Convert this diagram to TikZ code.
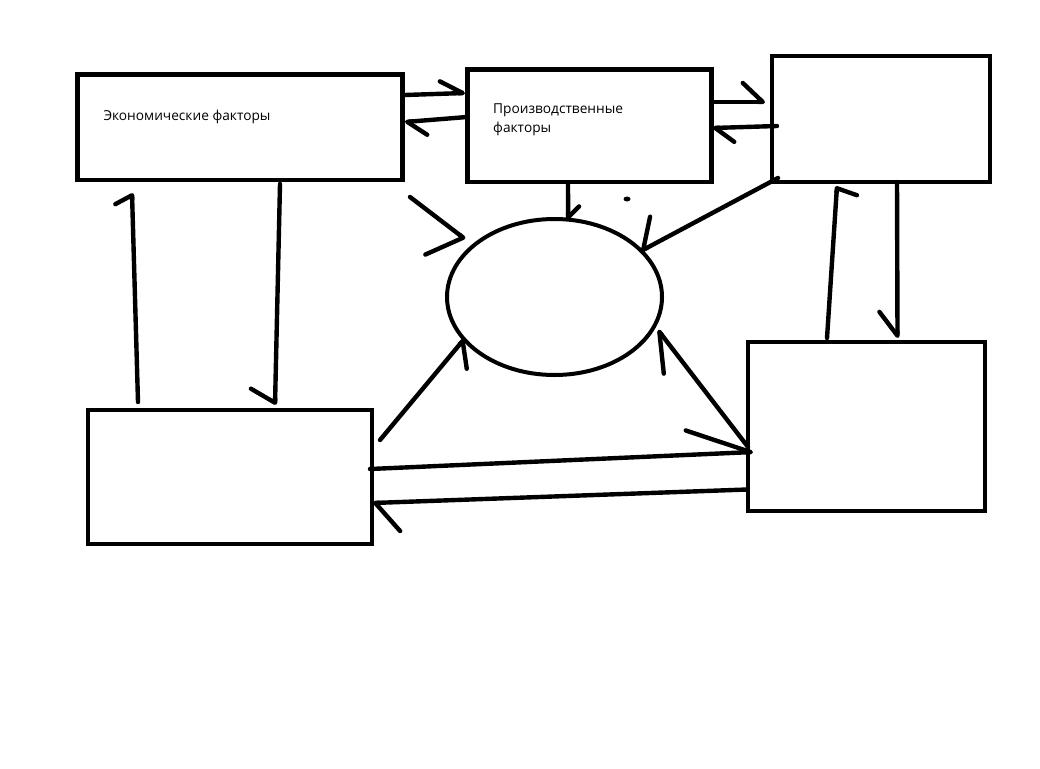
\documentclass[tikz,border=0pt]{standalone}
\usepackage{fontspec}
\setmainfont{Open Sans}
\usetikzlibrary{arrows.meta, calc, positioning, shapes.geometric}
\tikzset{
  box/.style={rectangle, draw=black, line width=4.6pt, inner sep=0pt, outer sep=0pt},
  core_shape/.style={ellipse, draw=black, line width=4pt, inner sep=0pt, outer sep=0pt},
  box_text/.style={font=\fontsize{13.7}{19}\selectfont, inner sep=0pt, align=left, text=black},
  hand/.style={line width=4.4pt, line cap=round, line join=round},
  barb_l/.style 2 args={hand, -{Straight Barb[harpoon, round, length=#1pt, width=#2pt]}},
  barb_r/.style 2 args={hand, -{Straight Barb[harpoon, swap, round, length=#1pt, width=#2pt]}}
}

\begin{document}
\begin{tikzpicture}[x=1pt, y=-1pt]
    % 1. Canvas
    \fill[white] (0,0) rectangle (1040,768);
    \useasboundingbox (0,0) rectangle (1040,768);

    % 2. Boxes and the ellipse
    \node[box, minimum width=325pt, minimum height=105.5pt] (econ_box) at (240,127.25) {};
    \node[box, minimum width=244pt, minimum height=112.5pt] (prod_box) at (589.5,125.75) {};
    \node[box, minimum width=218pt, minimum height=126pt] (tr_box) at (881,119) {};
    \node[box, minimum width=284pt, minimum height=134pt] (bl_box) at (230,477) {};
    \node[box, minimum width=237pt, minimum height=169pt] (br_box) at (866.5,426.5) {};
    \node[core_shape, minimum width=215pt, minimum height=156pt] (core) at (554.5,297) {};

    % 3. Labels (base = last line)
    \node[box_text, anchor=base west] (econ_label) at ($(econ_box.north west)+(25.8,45.5)$) {Экономические факторы};
    \node[box_text, anchor=base west] (prod_label) at ($(prod_box.north west)+(25.5,62.8)$) {Производственные\\факторы};

    % 4. Arrows along the top row
    \draw[barb_l={22.6}{25}] ($(econ_box.east)+(2.5,-32.25)$) -- ($(prod_box.west)+(-2.5,-32.75)$);
    \draw[barb_l={18.9}{29}] ($(prod_box.west)+(-0.5,-8.75)$) -- ($(econ_box.east)+(2.5,-5.25)$);
    \draw[barb_l={20}{38}] ($(prod_box.east)+(0.5,-23.75)$) -- ($(tr_box.west)+(-7,-17)$);
    \draw[barb_l={18.6}{29}] ($(tr_box.west)+(5,7)$) -- ($(prod_box.east)+(1.5,2.25)$);

    % 5. Arrows into the ellipse
    \draw[barb_l={11}{22}] ($(prod_box.south)+(-21.5,1)$) -- (core.80);
    \draw[barb_r={21.7}{52}] ($(tr_box.south west)+(6,-4)$) -- (core.28);
    \draw[barb_r={19.9}{73}] ($(econ_box.south east)+(7.5,17)$) -- ($(core.west)+(18,-58)$);
    \draw[barb_r={18.8}{42}] ($(bl_box.north east)+(8,30)$) -- (core.205);
    \draw[barb_l={35.9}{44}] ($(br_box.west)+(0,20.5)$) -- ($(core.east)+(-4,33)$);
    \fill (627,199) ellipse (3.5 and 2.5);

    % 6. Arrows along the bottom row
    \draw[barb_l={64}{49}] ($(bl_box.east)+(-2,-8)$) -- ($(br_box.west)+(5,25.5)$);
    \draw[barb_l={23.9}{58}] ($(br_box.west)+(-1,63)$) -- ($(bl_box.east)+(1,26)$);

    % 7. Vertical arrows
    \draw[barb_l={8.5}{34}] ($(bl_box.north west)+(50,-8)$) -- ($(econ_box.south west)+(54.5,13)$);
    \draw[barb_r={13.6}{49}] ($(econ_box.south)+(40,4)$) -- ($(bl_box.north)+(45,-5)$);
    \draw[barb_r={5.7}{41}] ($(br_box.north)+(-39.5,-4)$) -- ($(tr_box.south)+(-44,4)$);
    \draw[barb_r={24}{36}] ($(tr_box.south)+(16,0)$) -- ($(br_box.north)+(31,-4)$);
\end{tikzpicture}
\end{document}
